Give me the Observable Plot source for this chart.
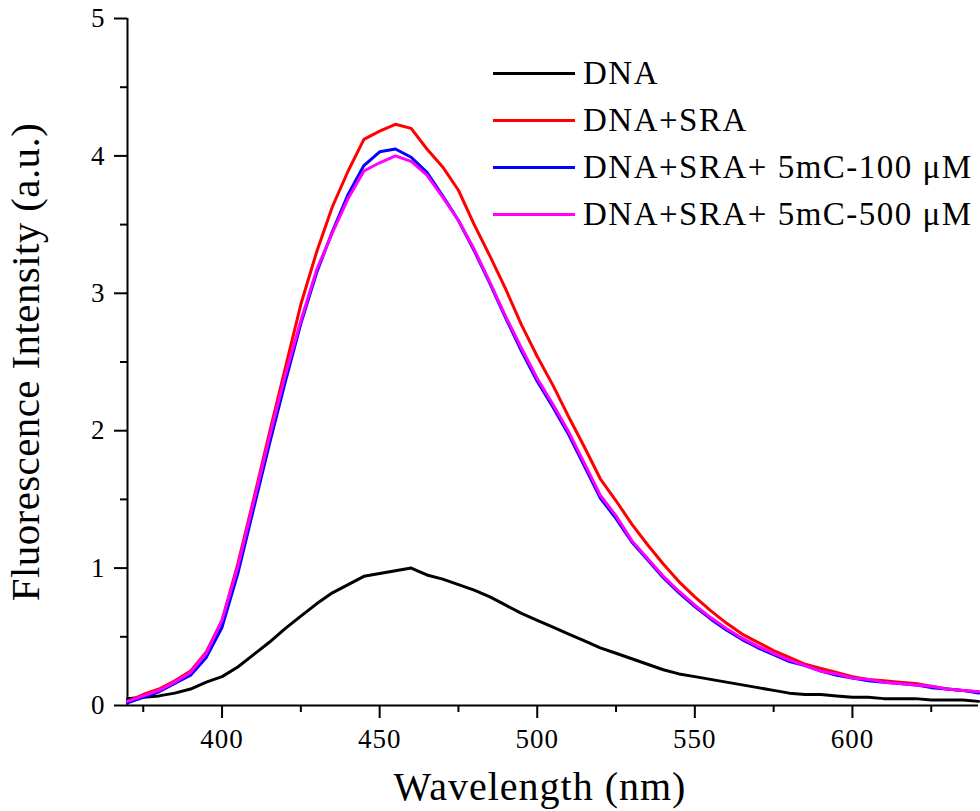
<!DOCTYPE html>
<html><head><meta charset="utf-8">
<script src="https://cdn.jsdelivr.net/npm/d3@7"></script>
<script src="https://cdn.jsdelivr.net/npm/@observablehq/plot@0.6"></script>
<style>
body{margin:0;background:#fff;}
#wrap{position:relative;width:980px;height:811px;}
#legend{position:absolute;left:493px;top:50px;font-family:"Liberation Serif",serif !important;font-size:33px;letter-spacing:1.5px;color:#000;}
.row{display:flex;align-items:center;height:47px;white-space:nowrap;}
.row span{font-family:"Liberation Serif",serif !important;}
.sw{width:82px;height:3px;margin-right:8px;flex:none;}
svg text{font-family:"Liberation Serif",serif !important;letter-spacing:1px;}
svg g[aria-label="y-axis label"] text{letter-spacing:0.4px;}
</style></head><body><div id="wrap"><div id="legend"></div></div>
<script>
const wavelength = [370,375,380,385,390,395,400,405,410,415,420,425,430,435,440,445,450,455,460,465,470,475,480,485,490,495,500,505,510,515,520,525,530,535,540,545,550,555,560,565,570,575,580,585,590,595,600,605,610,615,620,625,630,635,640];
const seriesNames = ["DNA","DNA+SRA","DNA+SRA+ 5mC-100 μM","DNA+SRA+ 5mC-500 μM"];
const seriesColors = ["#000000","#ff0000","#0000ff","#ff00ff"];
const dna = [0.05,0.06,0.07,0.09,0.12,0.17,0.21,0.28,0.37,0.46,0.56,0.65,0.74,0.82,0.88,0.94,0.96,0.98,1.00,0.95,0.92,0.88,0.84,0.79,0.73,0.67,0.62,0.57,0.52,0.47,0.42,0.38,0.34,0.30,0.26,0.23,0.21,0.19,0.17,0.15,0.13,0.11,0.09,0.08,0.08,0.07,0.06,0.06,0.05,0.05,0.05,0.04,0.04,0.04,0.03];
const dnaSra = [0.03,0.08,0.12,0.18,0.25,0.39,0.62,1.03,1.50,1.98,2.45,2.92,3.30,3.63,3.89,4.12,4.18,4.23,4.20,4.05,3.92,3.75,3.50,3.27,3.03,2.77,2.54,2.33,2.10,1.88,1.65,1.49,1.32,1.17,1.03,0.90,0.79,0.69,0.60,0.52,0.46,0.40,0.35,0.30,0.27,0.24,0.21,0.19,0.18,0.17,0.16,0.14,0.12,0.11,0.10];
const mc100 = [0.02,0.06,0.10,0.16,0.22,0.35,0.57,0.96,1.43,1.90,2.35,2.78,3.15,3.45,3.72,3.93,4.03,4.05,3.99,3.88,3.71,3.53,3.31,3.07,2.82,2.58,2.36,2.17,1.97,1.74,1.51,1.36,1.19,1.06,0.93,0.82,0.72,0.63,0.55,0.48,0.42,0.37,0.32,0.29,0.25,0.22,0.20,0.18,0.17,0.16,0.15,0.13,0.12,0.11,0.09];
const mc500 = [0.03,0.07,0.11,0.17,0.24,0.38,0.62,1.01,1.48,1.95,2.40,2.80,3.17,3.44,3.69,3.89,3.95,4.00,3.96,3.86,3.70,3.53,3.32,3.08,2.83,2.60,2.38,2.19,1.99,1.76,1.53,1.38,1.20,1.07,0.94,0.83,0.73,0.64,0.56,0.49,0.43,0.38,0.33,0.29,0.25,0.23,0.20,0.19,0.17,0.16,0.15,0.14,0.12,0.11,0.10];
const xMajorTicks = [400,450,500,550,600];
const xMinorTicks = [375,425,475,525,575,625];
const yMajorTicks = [0,1,2,3,4,5];
const yMinorTicks = [0.5,1.5,2.5,3.5,4.5];

const seriesValues = [dna, dnaSra, mc100, mc500];
const rows = seriesValues.flatMap((vals, k) => wavelength.map((w, i) => ({wl: w, v: vals[i], name: seriesNames[k]})));

const chart = Plot.plot({
  width: 980, height: 811,
  marginLeft: 127, marginRight: 2, marginTop: 18, marginBottom: 106,
  style: {fontFamily: '"Liberation Serif",serif', fontSize: "27px", background: "#fff", color: "#000"},
  x: {domain: [370, 640]},
  y: {domain: [0, 5]},
  color: {domain: seriesNames, range: seriesColors},
  marks: [
    Plot.axisX({ticks: xMajorTicks, tickSize: 13, tickPadding: 10, tickFormat: d => String(d), fontSize: 27, label: null, strokeWidth: 2}),
    Plot.axisX({ticks: xMinorTicks, tickSize: 7, tickFormat: () => "", label: null, strokeWidth: 2}),
    Plot.axisX({ticks: [], label: "Wavelength (nm)", labelAnchor: "center", labelArrow: "none", labelOffset: 94, fontSize: 40}),
    Plot.axisY({ticks: yMajorTicks, tickSize: 13, tickPadding: 9, tickFormat: d => String(d), fontSize: 27, label: null, strokeWidth: 2}),
    Plot.axisY({ticks: yMinorTicks, tickSize: 7, tickFormat: () => "", label: null, strokeWidth: 2}),
    Plot.axisY({ticks: [], label: "Fluorescence Intensity (a.u.)", labelAnchor: "center", labelArrow: "none", labelOffset: 118, fontSize: 41}),
    Plot.ruleY([0], {stroke: "#000", strokeWidth: 2}),
    Plot.ruleX([370], {stroke: "#000", strokeWidth: 2}),
    Plot.line(rows, {x: "wl", y: "v", z: "name", stroke: "name", strokeWidth: 3, curve: "linear"})
  ]
});
document.getElementById("wrap").prepend(chart);
const xl = chart.querySelector('g[aria-label="x-axis label"] text');
if (xl) xl.setAttribute("dx", "-13");

const legend = document.getElementById("legend");
seriesNames.forEach((n, k) => {
  const r = document.createElement("div");
  r.className = "row";
  const sw = document.createElement("span");
  sw.className = "sw";
  sw.style.background = seriesColors[k];
  const t = document.createElement("span");
  t.textContent = n;
  r.append(sw, t);
  legend.append(r);
});
</script>
</body></html>
